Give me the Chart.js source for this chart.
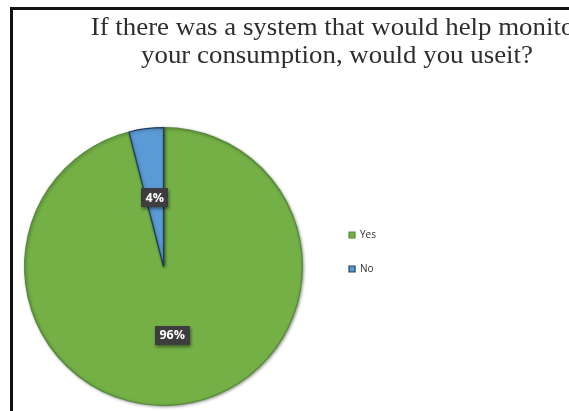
<!DOCTYPE html>
<html>
<head>
<meta charset="utf-8">
<script src="https://cdn.jsdelivr.net/npm/chart.js@4/dist/chart.umd.min.js"></script>
<style>
  html, body { margin: 0; padding: 0; background: #ffffff; overflow: hidden; }
  canvas { display: block; }
</style>
</head>
<body>
<canvas id="c" width="569" height="411"></canvas>
<script>
// Survey answers
const categories = ['Yes', 'No'];
const shares = [96, 4];
const sliceColors = ['#74b046', '#5b9bd5'];
const sliceEdges = ['#55883a', '#1f3b5c'];
const titleLines = ['If there was a system that would help monitor', 'your consumption, would you useit?'];

// Frame lines on the left and top edges
const framePlugin = {
  id: 'frame',
  beforeDraw(chart) {
    const ctx = chart.ctx;
    ctx.save();
    ctx.fillStyle = '#ffffff';
    ctx.fillRect(0, 0, chart.width, chart.height);
    ctx.fillStyle = '#111111';
    ctx.fillRect(10, 7, 3, chart.height - 7);
    ctx.fillRect(10, 7, chart.width - 10, 3);
    ctx.restore();
  }
};

// Two-line serif heading
const headingPlugin = {
  id: 'heading',
  afterDraw(chart) {
    const ctx = chart.ctx;
    ctx.save();
    ctx.fillStyle = '#2e2e2e';
    ctx.font = '25px "Liberation Serif"';
    ctx.textAlign = 'center';
    ctx.textBaseline = 'alphabetic';
    const cx = 337, sx = 1.075;
    const baselines = [35, 63];
    titleLines.forEach((t, i) => {
      ctx.save();
      ctx.translate(cx, baselines[i]);
      ctx.scale(sx, 1);
      ctx.fillText(t, 0, 0);
      ctx.restore();
    });
    ctx.restore();
  }
};

// Soft shadow under the pie
const shadowPlugin = {
  id: 'pieShadow',
  beforeDatasetsDraw(chart) {
    const ctx = chart.ctx;
    ctx.save();
    ctx.shadowColor = 'rgba(0,0,0,0.35)';
    ctx.shadowBlur = 3;
    ctx.shadowOffsetX = 1;
    ctx.shadowOffsetY = 1;
  },
  afterDatasetsDraw(chart) {
    chart.ctx.restore();
  }
};

// Percentage tags in dark boxes on each slice
const tagPlugin = {
  id: 'tags',
  afterDatasetsDraw(chart) {
    const ctx = chart.ctx;
    const meta = chart.getDatasetMeta(0);
    ctx.save();
    ctx.font = 'bold 12.5px "Open Sans"';
    ctx.textAlign = 'center';
    ctx.textBaseline = 'middle';
    meta.data.forEach((arc, i) => {
      const p = arc.tooltipPosition();
      const text = shares[i] + '%';
      const w = ctx.measureText(text).width + 9;
      const h = 19;
      ctx.save();
      ctx.shadowColor = 'rgba(0,0,0,0.45)';
      ctx.shadowBlur = 3;
      ctx.shadowOffsetX = 1;
      ctx.shadowOffsetY = 2;
      ctx.fillStyle = '#3d3d3f';
      ctx.fillRect(Math.round(p.x - w / 2), Math.round(p.y - h / 2), Math.round(w), h);
      ctx.restore();
      ctx.fillStyle = '#ffffff';
      ctx.fillText(text, p.x, p.y + 0.5);
    });
    ctx.restore();
  }
};

function build() {
  new Chart(document.getElementById('c'), {
    type: 'pie',
    data: {
      labels: categories,
      datasets: [{
        data: shares,
        backgroundColor: sliceColors,
        borderColor: sliceEdges,
        borderWidth: 1.2
      }]
    },
    options: {
      responsive: false,
      animation: false,
      devicePixelRatio: 1,
      layout: { padding: { top: 127, bottom: 5, left: 2, right: 183 } },
      plugins: {
        tooltip: { enabled: false },
        title: { display: false },
        legend: {
          display: true,
          position: 'right',
          align: 'start',
          maxWidth: 70,
          title: { display: true, text: '', font: { size: 10 }, padding: { top: 67, bottom: 0 } },
          labels: {
            boxWidth: 6,
            boxHeight: 6,
            padding: 24,
            color: '#2f2f2f',
            font: { size: 10, family: '"Open Sans"' }
          }
        }
      }
    },
    plugins: [framePlugin, shadowPlugin, tagPlugin, headingPlugin]
  });
}

Promise.all([
  document.fonts.load('25px "Liberation Serif"'),
  document.fonts.load('bold 12.5px "Open Sans"'),
  document.fonts.load('10px "Open Sans"')
]).catch(() => {}).then(build);
</script>
</body>
</html>
